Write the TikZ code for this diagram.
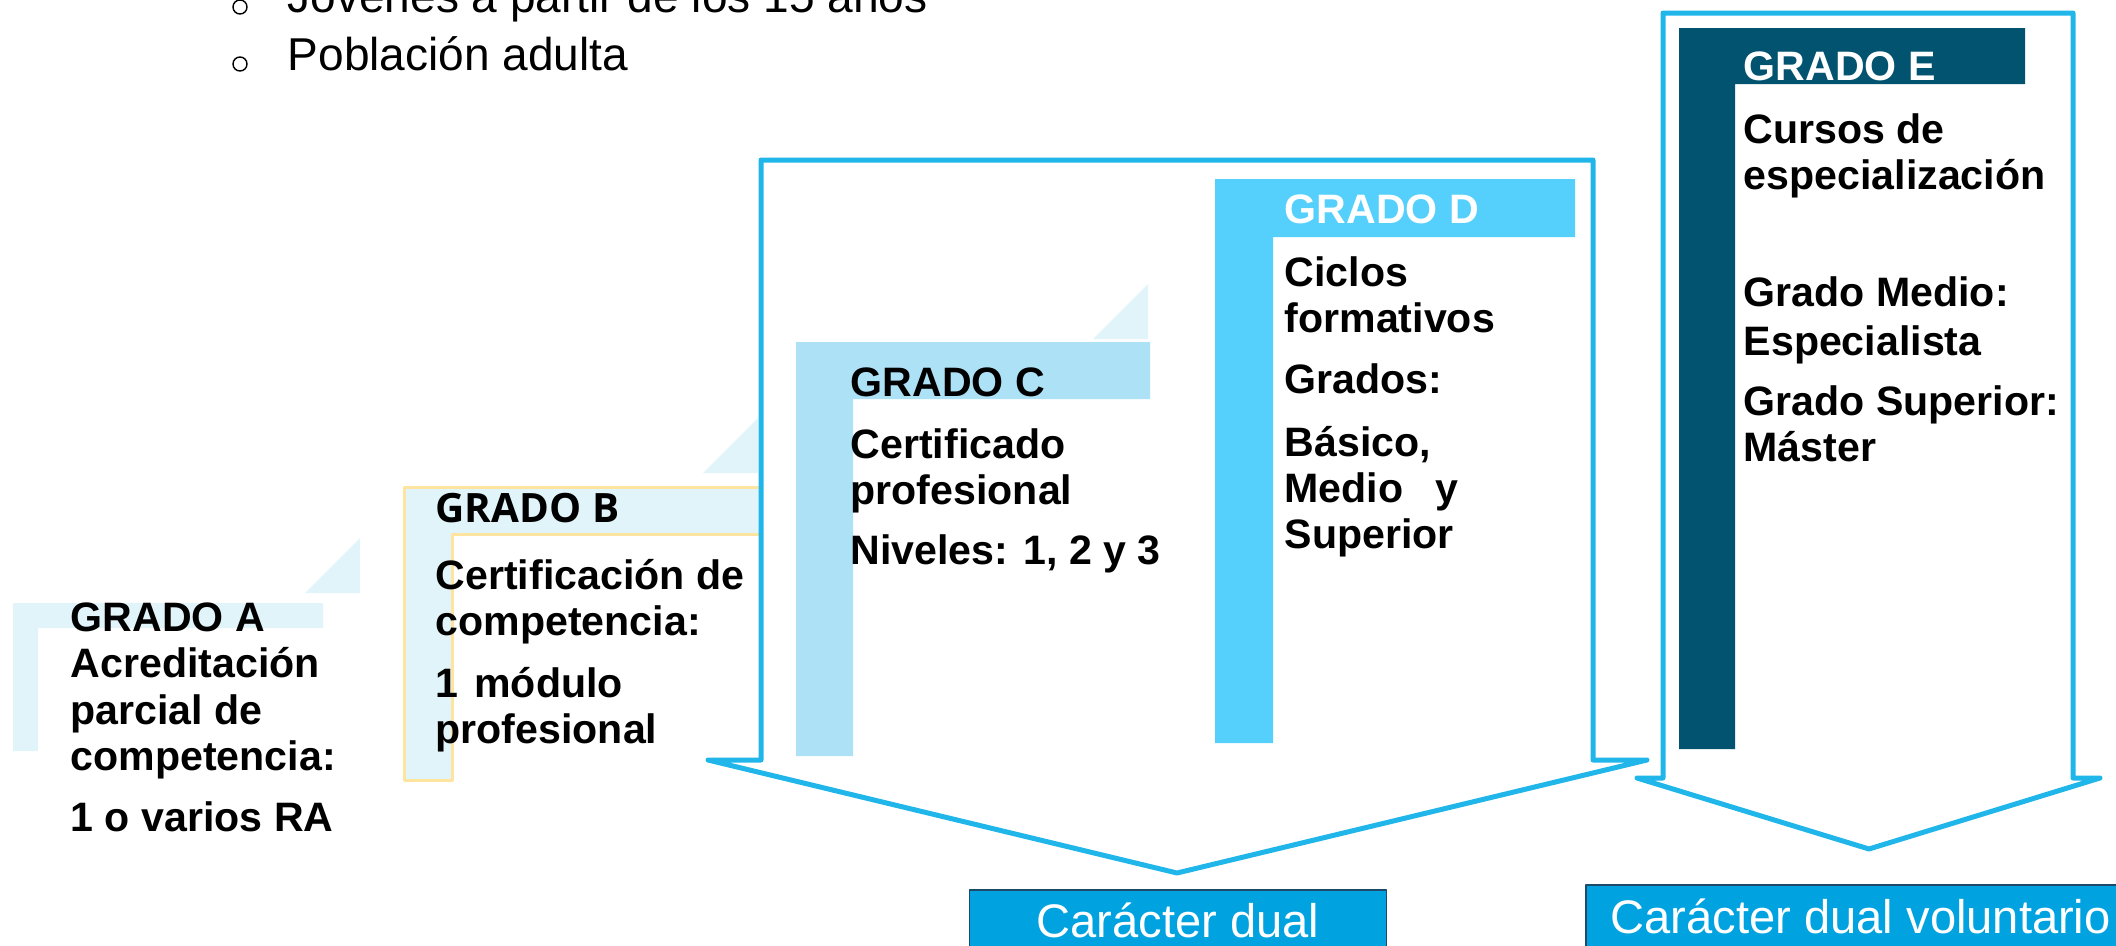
\documentclass[tikz,border=0pt]{standalone}
\usepackage{fontspec}
\setmainfont{Liberation Sans}
\newfontfamily\opensans{Open Sans}
\usepackage{xcolor}
\usepackage{tikz}
\definecolor{arrowblue}{HTML}{20B6EA}
\definecolor{paleblue}{HTML}{E1F4FA}
\definecolor{sandline}{HTML}{FFE4A0}
\definecolor{skyblue}{HTML}{ADE2F6}
\definecolor{brightblue}{HTML}{55D0FC}
\definecolor{deepteal}{HTML}{02536F}
\definecolor{labelblue}{HTML}{00A3E0}
\definecolor{labeledge}{HTML}{1E4A6A}
\def\parsep{4.4pt}

\begin{document}
\begin{tikzpicture}[x=0.1mm,y=-0.1mm,line join=round]
    \tikzstyle{grado text}=[anchor=north west,inner sep=0pt,align=left,font=\fontsize{11.7pt}{13.1pt}\selectfont\bfseries]
    \tikzstyle{bullet text}=[anchor=base west,inner sep=0pt,font=\fontsize{13.1pt}{15pt}\selectfont]
    \tikzstyle{bullet}=[circle,draw=black,line width=0.4pt,minimum size=1.4mm,inner sep=0pt]
    \tikzstyle{arrow box}=[draw=arrowblue,fill=white,line width=0.5mm]
    \tikzstyle{dual label}=[fill=labelblue,draw=labeledge,line width=0.15mm,text=white,inner ysep=0.5mm,text depth=6mm,font=\fontsize{13.4pt}{15pt}\selectfont]

    \useasboundingbox (0,0) rectangle (2116,946);
    \clip (0,0) rectangle (2116,946);

    % Bullet list at the top (cut by the frame)
    \node[bullet] (bulletA) at (240,7) {};
    \node[bullet] (bulletB) at (240,64) {};
    \node[bullet text] (jovenes) at (287,13) {Jóvenes a partir de los 15 años};
    \node[bullet text] (adulta) at (287,71) {Población adulta};

    % Small corner triangles of grados A and B
    \foreach \tx / \ty in {360/593, 758/473}
        \fill[paleblue] (\tx-55,\ty) -- (\tx,\ty-55) -- (\tx,\ty) -- cycle;

    % Brackets of grados A and B
    \fill[paleblue] (13,603) -- (323,603) -- (323,628) -- (38,628) -- (38,751) -- (13,751) -- cycle;
    \filldraw[fill=paleblue,draw=sandline,line width=0.3mm]
        (404,487) -- (760,487) -- (760,534) -- (452,534) -- (452,780) -- (404,780) -- cycle;

    % The two big arrows
    \draw[arrow box] (761,160) -- (1593,160) -- (1593,760) -- (1647,760) -- (1177,873) -- (708,760) -- (761,760) -- cycle;
    \draw[arrow box] (1663,13) -- (2073,13) -- (2073,778) -- (2100,778) -- (1869,849) -- (1637,778) -- (1663,778) -- cycle;

    \fill[paleblue] (1093,339) -- (1148,284) -- (1148,339) -- cycle;

    % Brackets of grados C, D and E
    % left / top / right / bottom / bar / colour
    \foreach \l / \t / \r / \b / \w / \col in {796/342/1150/756/57/skyblue,
                                             1215/179/1575/743/58/brightblue,
                                             1679/28/2025/749/56/deepteal}
        \fill[\col] (\l,\t) -- (\r,\t) -- (\r,\t+\w) -- (\l+\w,\t+\w) -- (\l+\w,\b) -- (\l,\b) -- cycle;

    % Texts of the grados
    \node[grado text] (gradoA) at (70,599) {\strut GRADO A\\ Acreditación\\ parcial de\\ competencia:\\[\parsep] 1 o varios RA};
    \node[grado text] (gradoB) at (435,490) {\strut{\opensans\fontsize{11.5pt}{13.1pt}\selectfont GRADO B}\\[5.7pt]
        Certificación de\\ competencia:\\[4.6pt] 1\hspace{4.5pt}módulo\\ profesional};
    \node[grado text] (gradoC) at (850,364) {\strut GRADO C\\[\parsep] Certificado\\ profesional\\[4pt] Niveles: 1, 2 y 3};
    \node[grado text] (gradoD) at (1284,191) {\strut\textcolor{white}{GRADO D}\\[4.6pt] Ciclos\\ formativos\\[\parsep]
        Grados:\\[4.8pt] Básico,\\ Medio\hspace{9pt}y\\ Superior};
    \node[grado text] (gradoE) at (1743,48) {\strut\textcolor{white}{GRADO E}\\[4.8pt] Cursos de\\ especialización\\[20.2pt]
        Grado Medio:\\[0.6pt] Especialista\\[4pt] Grado Superior:\\ Máster};

    % Labels under the arrows
    \node[dual label,anchor=base,minimum width=41.7mm,text height=4.2mm] (dual) at (1178,937) {Carácter dual};
    \node[dual label,anchor=base west,inner xsep=2.5mm,text height=4.3mm] (voluntario) at (1585,933) {Carácter dual voluntario};
\end{tikzpicture}
\end{document}
